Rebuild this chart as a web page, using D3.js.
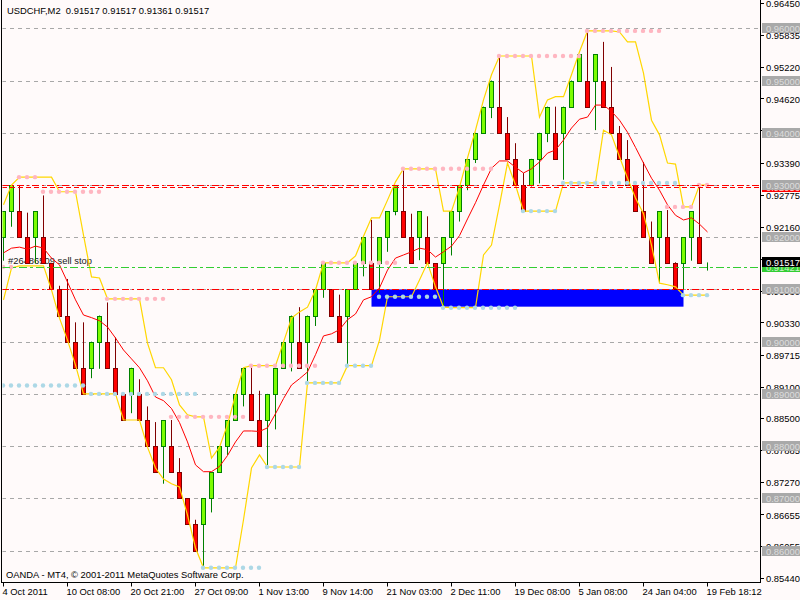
<!DOCTYPE html>
<html>
<head>
<meta charset="utf-8">
<script src="https://cdn.jsdelivr.net/npm/d3@7"></script>
<style>
  html, body { margin: 0; padding: 0; background: #fffafa; }
  svg { display: block; font-family: "Liberation Sans", Arial, sans-serif; }
  text { white-space: pre; }
</style>
</head>
<body>
<div id="chart"></div>
<script>
// --- Renko bars (USDCHF, 50 pip box) ---
const opens = [
  0.920, 0.925, 0.925, 0.920, 0.920, 0.920, 0.915, 0.910, 0.905, 0.900,
  0.895, 0.895, 0.900, 0.900, 0.895, 0.890, 0.890, 0.890, 0.885, 0.880,
  0.880, 0.880, 0.875, 0.870, 0.865, 0.865, 0.870, 0.875, 0.880, 0.885,
  0.890, 0.890, 0.885, 0.885, 0.890, 0.895, 0.900, 0.900, 0.900, 0.905,
  0.910, 0.910, 0.905, 0.905, 0.910, 0.915, 0.915, 0.915, 0.920, 0.925,
  0.925, 0.920, 0.920, 0.920, 0.915, 0.915, 0.920, 0.925, 0.930, 0.935,
  0.940, 0.945, 0.945, 0.940, 0.935, 0.930, 0.930, 0.935, 0.940, 0.940,
  0.940, 0.945, 0.950, 0.950, 0.950, 0.950, 0.945, 0.940, 0.935, 0.930,
  0.925, 0.920, 0.920, 0.920, 0.915, 0.915, 0.920, 0.920, 0.91517
];
const closes = [
  0.925, 0.930, 0.920, 0.915, 0.925, 0.915, 0.910, 0.905, 0.900, 0.895,
  0.890, 0.900, 0.905, 0.895, 0.890, 0.885, 0.895, 0.885, 0.880, 0.875,
  0.885, 0.875, 0.870, 0.865, 0.860, 0.870, 0.875, 0.880, 0.885, 0.890,
  0.895, 0.885, 0.880, 0.890, 0.895, 0.900, 0.905, 0.895, 0.905, 0.910,
  0.915, 0.905, 0.900, 0.910, 0.915, 0.920, 0.910, 0.920, 0.925, 0.930,
  0.920, 0.915, 0.925, 0.915, 0.910, 0.920, 0.925, 0.930, 0.935, 0.940,
  0.945, 0.950, 0.940, 0.935, 0.930, 0.925, 0.935, 0.940, 0.945, 0.935,
  0.945, 0.950, 0.955, 0.945, 0.955, 0.945, 0.940, 0.935, 0.930, 0.925,
  0.920, 0.915, 0.925, 0.915, 0.910, 0.920, 0.925, 0.915, 0.91517
];
const highs = [
  0.925, 0.930, 0.930, 0.9247, 0.925, 0.928, 0.915, 0.9107, 0.912, 0.9037,
  0.9037, 0.900, 0.905, 0.9075, 0.9008, 0.890, 0.895, 0.8928, 0.8876, 0.8846,
  0.885, 0.885, 0.8777, 0.870, 0.8659, 0.870, 0.875, 0.880, 0.885, 0.890,
  0.895, 0.895, 0.8906, 0.890, 0.895, 0.900, 0.905, 0.9066, 0.905, 0.910,
  0.915, 0.910, 0.909, 0.910, 0.915, 0.920, 0.9233, 0.920, 0.925, 0.930,
  0.933, 0.9245, 0.925, 0.924, 0.915, 0.920, 0.925, 0.930, 0.935, 0.940,
  0.945, 0.950, 0.955, 0.943, 0.938, 0.9323, 0.935, 0.940, 0.945, 0.945,
  0.945, 0.950, 0.955, 0.9593, 0.955, 0.9574, 0.9526, 0.9413, 0.9386, 0.930,
  0.9344, 0.923, 0.925, 0.9252, 0.9152, 0.920, 0.925, 0.9298, 0.91517
];
const lows = [
  0.9155, 0.922, 0.920, 0.915, 0.915, 0.915, 0.910, 0.905, 0.900, 0.895,
  0.890, 0.893, 0.8948, 0.895, 0.890, 0.885, 0.8863, 0.885, 0.880, 0.875,
  0.8728, 0.875, 0.870, 0.865, 0.860, 0.8568, 0.8673, 0.875, 0.8783, 0.885,
  0.8876, 0.885, 0.880, 0.876, 0.8832, 0.895, 0.8943, 0.895, 0.892, 0.903,
  0.9084, 0.905, 0.900, 0.8953, 0.910, 0.9125, 0.910, 0.9093, 0.9172, 0.9242,
  0.920, 0.915, 0.9156, 0.915, 0.910, 0.9067, 0.9165, 0.923, 0.929, 0.9342,
  0.940, 0.9428, 0.940, 0.935, 0.930, 0.925, 0.9297, 0.9303, 0.9382, 0.935,
  0.931, 0.945, 0.950, 0.945, 0.9405, 0.945, 0.940, 0.935, 0.930, 0.925,
  0.920, 0.915, 0.9112, 0.915, 0.910, 0.910, 0.9155, 0.915, 0.91361
];

// --- Indicators ---
const maValues = [
  0.9170, 0.9179, 0.9181, 0.9177, 0.9183, 0.9179, 0.9160, 0.9147, 0.9114, 0.9080,
  0.9051, 0.9046, 0.9040, 0.9028, 0.9007, 0.8984, 0.8967, 0.8950, 0.8925, 0.8894,
  0.8887, 0.8872, 0.8845, 0.8808, 0.8764, 0.8751, 0.8751, 0.8761, 0.8782, 0.8808,
  0.8829, 0.8829, 0.8828, 0.8835, 0.8862, 0.8891, 0.8917, 0.8929, 0.8942, 0.8975,
  0.9011, 0.9015, 0.9023, 0.9042, 0.9053, 0.9080, 0.9086, 0.9103, 0.9137, 0.9160,
  0.9166, 0.9172, 0.9179, 0.9176, 0.9162, 0.9172, 0.9183, 0.9203, 0.9235, 0.9266,
  0.9300, 0.9332, 0.9346, 0.9346, 0.9334, 0.9323, 0.9331, 0.9344, 0.9361, 0.9367,
  0.9386, 0.9409, 0.9426, 0.9430, 0.9453, 0.9453, 0.9441, 0.9424, 0.9401, 0.9372,
  0.9342, 0.9313, 0.9290, 0.9262, 0.9242, 0.9233, 0.9237, 0.9225, 0.9210
];
const upperBand = [
  0.9262, 0.9300, 0.9315, 0.9315, 0.9315, 0.9315, 0.9315, 0.9287, 0.9287, 0.9287,
  0.9204, 0.9124, 0.9122, 0.9082, 0.9082, 0.9082, 0.9082, 0.9082, 0.8997, 0.8950,
  0.8950, 0.8927, 0.8879, 0.8860, 0.8856, 0.8856, 0.8777, 0.8798, 0.8841, 0.8898,
  0.8950, 0.8954, 0.8954, 0.8954, 0.8954, 0.8999, 0.9045, 0.9057, 0.9066, 0.9099,
  0.9151, 0.9151, 0.9151, 0.9151, 0.9164, 0.9202, 0.9237, 0.9237, 0.9271, 0.9306,
  0.9331, 0.9331, 0.9331, 0.9331, 0.9331, 0.9250, 0.9250, 0.9296, 0.9352, 0.9405,
  0.9463, 0.9511, 0.9547, 0.9547, 0.9547, 0.9547, 0.9547, 0.9430, 0.9463, 0.9469,
  0.9469, 0.9511, 0.9555, 0.9595, 0.9595, 0.9595, 0.9595, 0.9593, 0.9574, 0.9574,
  0.9514, 0.9424, 0.9396, 0.9342, 0.9340, 0.9258, 0.9258, 0.9300, 0.9300
];
const lowerBand = [
  0.9080, 0.9141, 0.9145, 0.9145, 0.9145, 0.9145, 0.9099, 0.9045, 0.9003, 0.8955,
  0.8900, 0.8900, 0.8900, 0.8900, 0.8900, 0.8850, 0.8850, 0.8850, 0.8798, 0.8758,
  0.8737, 0.8728, 0.8722, 0.8668, 0.8605, 0.8567, 0.8567, 0.8567, 0.8567, 0.8567,
  0.8659, 0.8758, 0.8783, 0.8760, 0.8760, 0.8760, 0.8760, 0.8760, 0.8921, 0.8921,
  0.8921, 0.8921, 0.8921, 0.8954, 0.8954, 0.8954, 0.8954, 0.9003, 0.9086, 0.9086,
  0.9086, 0.9086, 0.9118, 0.9151, 0.9105, 0.9066, 0.9065, 0.9065, 0.9065, 0.9065,
  0.9166, 0.9185, 0.9262, 0.9342, 0.9300, 0.9250, 0.9250, 0.9250, 0.9250, 0.9250,
  0.9304, 0.9304, 0.9304, 0.9304, 0.9304, 0.9405, 0.9396, 0.9354, 0.9313, 0.9275,
  0.9245, 0.9185, 0.9112, 0.9109, 0.9105, 0.9089, 0.9089, 0.9089, 0.9089
];
// dotted levels: [first bar, last bar, price]
const resistanceDots = [
  [0, 1, 0.9143], [2, 4, 0.9315], [5, 12, 0.9287], [13, 20, 0.9082],
  [21, 30, 0.8856], [31, 39, 0.8954], [40, 49, 0.9151], [50, 61, 0.9331],
  [62, 72, 0.9547], [73, 82, 0.9595], [83, 86, 0.9258], [87, 88, 0.9300]
];
const supportDots = [
  [0, 10, 0.8916], [11, 24, 0.8900], [25, 32, 0.8567], [33, 37, 0.8760],
  [38, 42, 0.8921], [43, 46, 0.8954], [47, 54, 0.9086], [55, 64, 0.9065],
  [65, 69, 0.9250], [70, 84, 0.9304], [85, 88, 0.9089]
];

// --- Objects ---
const levelLines = [0.96, 0.95, 0.94, 0.93, 0.92, 0.91, 0.90, 0.89, 0.88, 0.87, 0.86];
const redDashDotLevels = [0.930, 0.910];
const redDashedLevel = 0.92956;
const sellStopPrice = 0.91421;
const sellStopLabel = '#26486509 sell stop';
const zoneBars = [46, 85];
const zonePrices = [0.9100, 0.9067];

// --- Axes ---
const priceTicks = [0.96450, 0.95835, 0.95220, 0.94620, 0.94005, 0.93390, 0.92775, 0.92160,
  0.91545, 0.90930, 0.90330, 0.89715, 0.89100, 0.88500, 0.87885, 0.87270, 0.86655, 0.86055, 0.85440];
const timeTickBars = [0, 8, 16, 24, 32, 40, 48, 56, 64, 72, 80, 88];
const timeLabels = ['4 Oct 2011', '10 Oct 08:00', '20 Oct 21:00', '27 Oct 09:00', '1 Nov 13:00',
  '9 Nov 14:00', '21 Nov 03:00', '2 Dec 11:00', '19 Dec 08:00', '5 Jan 08:00', '24 Jan 04:00', '19 Feb 18:12'];
const headerText = 'USDCHF,M2  0.91517 0.91517 0.91361 0.91517';
const footerText = 'OANDA - MT4, \u00A9 2001-2011 MetaQuotes Software Corp.';
const bidPrice = 0.91517;

const W = 800, H = 600;
const left = 2, right = 760, bottom = 582;
const FS = 9.4;

const x = d3.scaleLinear().domain([0, 88]).range([3.5, 707.5]);
const y = d3.scaleLinear().domain([0.8544, 0.9645]).range([579.8, 4.8]);
const py = p => Math.round(y(p)) + 0.5;

const svg = d3.select('#chart').append('svg')
  .attr('width', W).attr('height', H);

svg.append('rect').attr('width', W).attr('height', H).attr('fill', '#fffafa');

svg.append('defs').append('clipPath').attr('id', 'plot')
  .append('rect').attr('x', left + 0.5).attr('y', 0)
  .attr('width', right - left - 0.5).attr('height', bottom);

const plot = svg.append('g').attr('clip-path', 'url(#plot)');

// grid level lines
plot.selectAll('.lvl').data(levelLines).enter().append('line')
  .attr('x1', left).attr('x2', right)
  .attr('y1', d => py(d)).attr('y2', d => py(d))
  .attr('stroke', '#a8a8a8').attr('stroke-dasharray', '4,4');

// blue zone
plot.append('rect')
  .attr('x', x(zoneBars[0])).attr('width', x(zoneBars[1]) - x(zoneBars[0]))
  .attr('y', y(zonePrices[0])).attr('height', y(zonePrices[1]) - y(zonePrices[0]))
  .attr('fill', '#0000ff');

// order label text (under the bars)
plot.append('text')
  .attr('x', 8).attr('y', 264)
  .attr('font-size', FS).attr('fill', '#202020')
  .text(sellStopLabel);

// candles
const bars = d3.range(opens.length).map(i => ({
  i, o: opens[i], h: highs[i], l: lows[i], c: closes[i]
}));
const candle = plot.selectAll('.bar').data(bars).enter().append('g');
candle.append('line')
  .attr('x1', d => x(d.i)).attr('x2', d => x(d.i))
  .attr('y1', d => y(d.h)).attr('y2', d => y(d.l))
  .attr('stroke', d => d.c >= d.o ? '#008000' : '#800000');
candle.append('rect')
  .attr('x', d => x(d.i) - 2).attr('width', 4)
  .attr('y', d => Math.round(y(Math.max(d.o, d.c))) + 0.5)
  .attr('height', d => Math.max(0, Math.round(y(Math.min(d.o, d.c))) - Math.round(y(Math.max(d.o, d.c)))))
  .attr('fill', d => d.c >= d.o ? '#7cfc00' : '#ff0000')
  .attr('stroke', d => d.c >= d.o ? '#008000' : '#800000');

// indicator lines
const line = d3.line().x((d, i) => x(i)).y(d => y(d));
plot.append('path').datum(upperBand).attr('d', line)
  .attr('fill', 'none').attr('stroke', '#ffd700').attr('stroke-width', 1.2);
plot.append('path').datum(lowerBand).attr('d', line)
  .attr('fill', 'none').attr('stroke', '#ffd700').attr('stroke-width', 1.2);
plot.append('path').datum(maValues).attr('d', line)
  .attr('fill', 'none').attr('stroke', '#ff0000').attr('stroke-width', 1);

// dots
const expand = rows => rows.flatMap(([a, b, p]) => d3.range(a, b + 1).map(k => ({ k, p })));
plot.selectAll('.rdot').data(expand(resistanceDots)).enter().append('circle')
  .attr('cx', d => x(d.k) - 0.5).attr('cy', d => y(d.p)).attr('r', 2.2)
  .attr('fill', '#ffb6c1');
plot.selectAll('.sdot').data(expand(supportDots)).enter().append('circle')
  .attr('cx', d => x(d.k) - 0.5).attr('cy', d => y(d.p)).attr('r', 2.2)
  .attr('fill', '#add8e6');

// object lines
plot.selectAll('.rdd').data(redDashDotLevels).enter().append('line')
  .attr('x1', left).attr('x2', right)
  .attr('y1', d => py(d)).attr('y2', d => py(d))
  .attr('stroke', '#ff0000').attr('stroke-dasharray', '7,3,2,3');
plot.append('line')
  .attr('x1', left).attr('x2', right)
  .attr('y1', py(redDashedLevel)).attr('y2', py(redDashedLevel))
  .attr('stroke', '#ff0000').attr('stroke-dasharray', '5,3');
plot.append('line')
  .attr('x1', left).attr('x2', right)
  .attr('y1', py(sellStopPrice)).attr('y2', py(sellStopPrice))
  .attr('stroke', '#32cd32').attr('stroke-dasharray', '8,3,3,3');

// header / footer
svg.append('text').attr('x', 7).attr('y', 14).attr('font-size', FS).attr('fill', '#000').text(headerText);
svg.append('text').attr('x', 6).attr('y', 577.5).attr('font-size', FS).attr('fill', '#000').text(footerText);

// frame
svg.append('line').attr('x1', left - 0.5).attr('x2', left - 0.5).attr('y1', 0).attr('y2', bottom + 0.5).attr('stroke', '#000');
svg.append('line').attr('x1', right + 0.5).attr('x2', right + 0.5).attr('y1', 0).attr('y2', bottom + 1).attr('stroke', '#000');
svg.append('line').attr('x1', left - 1).attr('x2', right + 1).attr('y1', bottom + 0.5).attr('y2', bottom + 0.5).attr('stroke', '#000');

// price axis
const pa = svg.append('g');
pa.selectAll('.pt').data(priceTicks).enter().append('line')
  .attr('x1', right + 1).attr('x2', right + 4)
  .attr('y1', d => Math.round(y(d)) - 1.5).attr('y2', d => Math.round(y(d)) - 1.5)
  .attr('stroke', '#000');
pa.selectAll('.pl').data(priceTicks).enter().append('text')
  .attr('x', 766).attr('y', d => y(d) + 2.2)
  .attr('font-size', FS).attr('fill', '#000')
  .text(d => d.toFixed(5));

// object labels on axis
function axisLabel(p, bg, fg) {
  const yc = Math.round(y(p));
  pa.append('rect').attr('x', 762).attr('y', yc - 5).attr('width', 38).attr('height', 10).attr('fill', bg);
  pa.append('text').attr('x', 766).attr('y', yc + 3.5)
    .attr('font-size', FS).attr('fill', fg).text(p.toFixed(5));
}
axisLabel(redDashedLevel, '#ff0000', '#ffd0d0');
levelLines.forEach(p => axisLabel(p, '#a9a9a9', '#dcdcdc'));
axisLabel(sellStopPrice, '#32cd32', '#c8f0c8');
axisLabel(bidPrice, '#000000', '#ffffff');

// time axis
const ta = svg.append('g');
ta.selectAll('.tt').data(timeTickBars).enter().append('line')
  .attr('x1', d => x(d)).attr('x2', d => x(d))
  .attr('y1', bottom).attr('y2', bottom + 4.5)
  .attr('stroke', '#000');
ta.selectAll('.tl').data(timeTickBars).enter().append('text')
  .attr('x', d => x(d) - 1).attr('y', 595)
  .attr('font-size', FS).attr('fill', '#000')
  .text((d, i) => timeLabels[i]);
</script>
</body>
</html>
